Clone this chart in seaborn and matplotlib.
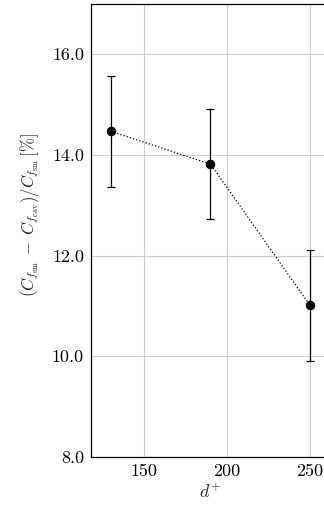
import matplotlib
matplotlib.use("Agg")
import matplotlib.pyplot as plt
import seaborn as sns
import pandas as pd

d_plus = [130, 190, 250]
reduction = [14.47, 13.82, 11.01]
err = [1.1, 1.1, 1.1]
x_ticks = [150, 200, 250]
y_ticks = [8.0, 10.0, 12.0, 14.0, 16.0]

sns.set_theme(style="white")
plt.rcParams["font.family"] = ["cmr10"]
plt.rcParams["mathtext.fontset"] = "cm"
plt.rcParams["axes.formatter.use_mathtext"] = True

df = pd.DataFrame({"d": d_plus, "r": reduction})

fig = plt.figure(figsize=(3.24, 5.07), dpi=100)
ax = fig.add_axes([91/324, 50/507, 239/324, 453/507])

ax.errorbar(d_plus, reduction, yerr=err, fmt="none", ecolor="black",
            elinewidth=0.9, capsize=3.2, capthick=0.9, zorder=3)
sns.lineplot(data=df, x="d", y="r", ax=ax, color="black", linestyle=":",
             linewidth=0.9, zorder=4)
sns.scatterplot(data=df, x="d", y="r", ax=ax, color="black", s=40,
                edgecolor="black", zorder=5)

ax.set_xlim(118, 262)
ax.set_ylim(8, 17)
ax.set_xticks(x_ticks)
ax.set_yticks(y_ticks)
ax.set_xticklabels([str(t) for t in x_ticks])
ax.set_yticklabels([f"{t:.1f}" for t in y_ticks])
ax.grid(True, color="#cccccc", linewidth=0.8)
ax.set_axisbelow(True)
ax.tick_params(direction="in", length=4, width=0.8, colors="#333333",
               labelcolor="black", labelsize=13, pad=5)
for s in ax.spines.values():
    s.set_color("black")
    s.set_linewidth(0.9)

ax.set_xlabel(r"$d^{+}$", fontsize=13, labelpad=2)
ax.set_ylabel(r"$(C_{f_{\mathrm{sm}}}\;-\;C_{f_{\mathrm{cav}}})/C_{f_{\mathrm{sm}}}\,[\%]$",
              fontsize=12)
ax.yaxis.set_label_coords(-0.21, 0.534)

fig.savefig("out.png", dpi=100)
